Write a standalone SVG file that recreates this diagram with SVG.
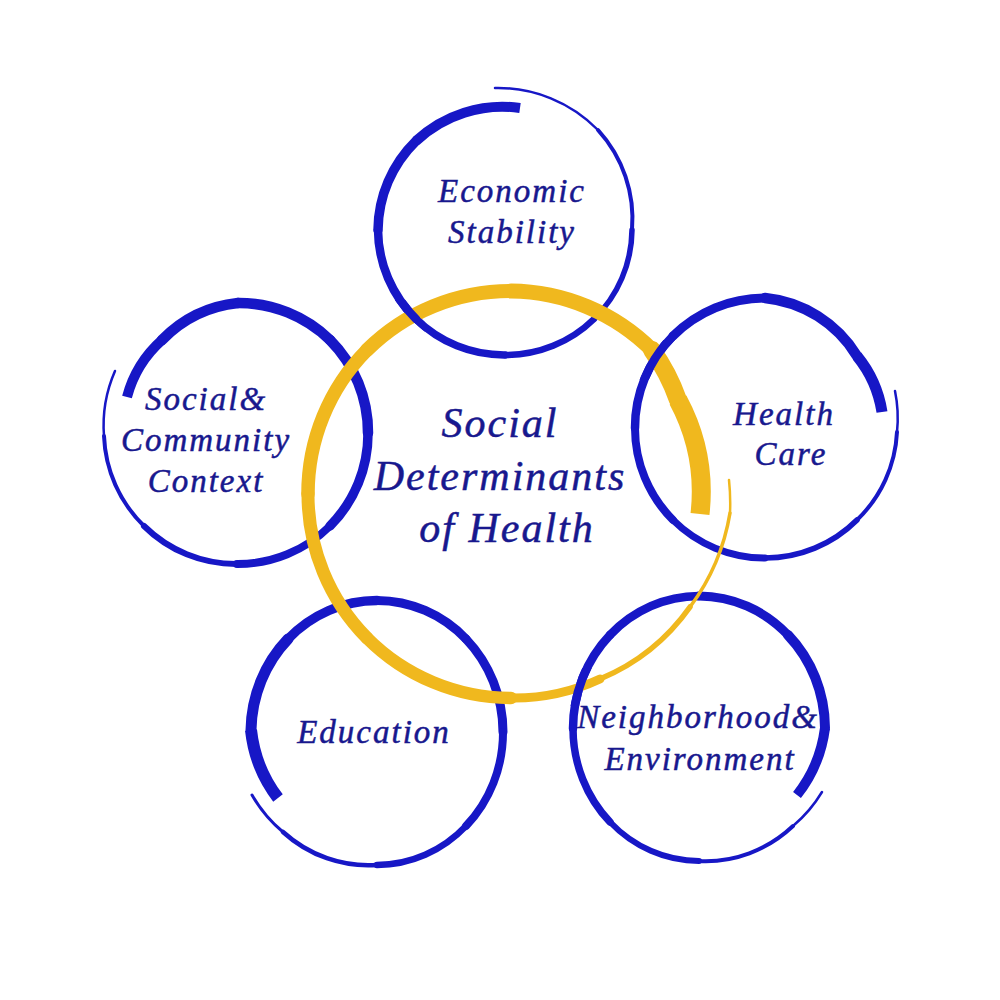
<svg xmlns="http://www.w3.org/2000/svg" width="1000" height="1000" viewBox="0 0 1000 1000">
<style>
.b{fill:none;stroke:#1717c6;stroke-linecap:round}
.y{fill:none;stroke:#f0b81e;stroke-linecap:round}
.s{stroke-linecap:butt}
text{font-family:"Liberation Serif","Times New Roman",serif;font-style:italic;fill:#18188e;stroke:#18188e;stroke-width:0.5px;text-anchor:middle;letter-spacing:2px}
.lbl{font-size:33px}
.big{font-size:42px}
</style>
<defs>
<clipPath id="c1"><rect x="385" y="300" width="40" height="40"/></clipPath>
<clipPath id="c2"><rect x="635" y="340" width="40" height="40"/></clipPath>
<clipPath id="c3"><rect x="562" y="668" width="36" height="38"/></clipPath>
</defs>
<rect x="0" y="0" width="1000" height="1000" fill="#ffffff"/>

<g id="node-economic">
 <g id="ring-economic">
  <path class="b s" stroke-width="10" d="M520,108 A126,126 0 0 0 416,141"/>
  <path class="b" stroke-width="9.5" d="M416,141 A126,126 0 0 0 378,230"/>
  <path class="b" stroke-width="8.5" d="M378,230 A126,126 0 0 0 416,319"/>
  <path class="b" stroke-width="7.5" d="M416,319 A126,126 0 0 0 505,355"/>
  <path class="b" stroke-width="6.5" d="M505,355 A126,126 0 0 0 594,319"/>
  <path class="b" stroke-width="5.5" d="M594,319 A126,126 0 0 0 632,230"/>
  <path class="b" stroke-width="4" d="M632,230 A132,132 0 0 0 598,130"/>
  <path class="b" stroke-width="2.5" d="M598,130 A140,140 0 0 0 495,88"/>
 </g>
 <text class="lbl" x="512" y="202">Economic</text>
 <text class="lbl" x="512" y="243">Stability</text>
</g>

<g id="node-social">
 <g id="ring-social">
  <path class="b s" stroke-width="10" d="M127,397 A116,116 0 0 1 162,340"/>
  <path class="b" stroke-width="10.5" d="M162,340 A124,124 0 0 1 238,303"/>
  <path class="b" stroke-width="10.5" d="M238,303 A131,131 0 0 1 330,340"/>
  <path class="b" stroke-width="10.5" d="M330,340 A131,131 0 0 1 368,433"/>
  <path class="b" stroke-width="9.5" d="M368,433 A131,131 0 0 1 330,526"/>
  <path class="b" stroke-width="8" d="M330,526 A131,131 0 0 1 237,564"/>
  <path class="b" stroke-width="6" d="M237,564 A131,131 0 0 1 144,526"/>
  <path class="b" stroke-width="4" d="M144,526 A133,133 0 0 1 104,436"/>
  <path class="b" stroke-width="2.5" d="M104,436 A136,136 0 0 1 115,371"/>
 </g>
 <text class="lbl" x="206" y="410">Social&amp;</text>
 <text class="lbl" x="206" y="451">Community</text>
 <text class="lbl" x="206" y="492">Context</text>
</g>

<g id="node-health">
 <g id="ring-health">
  <path class="b s" stroke-width="11" d="M882,412 A117,117 0 0 0 857,356"/>
  <path class="b" stroke-width="10.5" d="M857,356 A122,122 0 0 0 765,298"/>
  <path class="b" stroke-width="9" d="M765,298 A130,130 0 0 0 673,336"/>
  <path class="b" stroke-width="8.5" d="M673,336 A130,130 0 0 0 635,428"/>
  <path class="b" stroke-width="8" d="M635,428 A130,130 0 0 0 673,520"/>
  <path class="b" stroke-width="7" d="M673,520 A130,130 0 0 0 765,558"/>
  <path class="b" stroke-width="5.5" d="M765,558 A130,130 0 0 0 857,520"/>
  <path class="b" stroke-width="4" d="M857,520 A131,131 0 0 0 897,432"/>
  <path class="b" stroke-width="2.5" d="M897,432 A133,133 0 0 0 895,391"/>
 </g>
 <text class="lbl" x="784" y="425">Health</text>
 <text class="lbl" x="791" y="465">Care</text>
</g>

<g id="node-education">
 <g id="ring-education">
  <path class="b s" stroke-width="12" d="M278,798 A126,132 0 0 1 251,730"/>
  <path class="b" stroke-width="11" d="M251,730 A126,132 0 0 1 288,639"/>
  <path class="b" stroke-width="9.5" d="M288,639 A126,132 0 0 1 377,600.5"/>
  <path class="b" stroke-width="9" d="M377,600.5 A126,132 0 0 1 466,639"/>
  <path class="b" stroke-width="9" d="M466,639 A126,132 0 0 1 503,732"/>
  <path class="b" stroke-width="8" d="M503,732 A126,132 0 0 1 466,826"/>
  <path class="b" stroke-width="6.5" d="M466,826 A126,132 0 0 1 377,865"/>
  <path class="b" stroke-width="4.5" d="M377,865 A130,136 0 0 1 283,832"/>
  <path class="b" stroke-width="3" d="M283,832 A134,138 0 0 1 252,795"/>
 </g>
 <text class="lbl" x="374" y="743">Education</text>
</g>

<g id="node-neighborhood">
 <g id="ring-neighborhood">
  <path class="b s" stroke-width="10" d="M797,795 A126,132.5 0 0 0 825,728"/>
  <path class="b" stroke-width="10" d="M825,728 A126,132.5 0 0 0 788,635"/>
  <path class="b" stroke-width="9" d="M788,635 A126,132.5 0 0 0 699,596"/>
  <path class="b" stroke-width="8.5" d="M699,596 A126,132.5 0 0 0 610,635"/>
  <path class="b" stroke-width="8.5" d="M610,635 A126,132.5 0 0 0 573,728.5"/>
  <path class="b" stroke-width="7.5" d="M573,728.5 A126,132.5 0 0 0 610,822"/>
  <path class="b" stroke-width="6" d="M610,822 A126,132.5 0 0 0 699,861"/>
  <path class="b" stroke-width="4" d="M699,861 A130,136 0 0 0 793,826"/>
  <path class="b" stroke-width="2.5" d="M793,826 A134,138 0 0 0 822,792"/>
 </g>
 <text class="lbl" x="698" y="728">Neighborhood&amp;</text>
 <text class="lbl" x="700" y="770">Environment</text>
</g>

<g id="node-center">
 <g id="ring-center">
  <path class="y s" stroke-width="19" d="M700,514 A195,195 0 0 0 678,400"/>
  <path class="y" stroke-width="18" d="M678,400 A198,198 0 0 0 652,350"/>
  <path class="y" stroke-width="15" d="M652,350 A203,203 0 0 0 511,291"/>
  <path class="y" stroke-width="14" d="M511,291 A204,204 0 0 0 367,350"/>
  <path class="y" stroke-width="13.5" d="M367,350 A204,204 0 0 0 308,494"/>
  <path class="y" stroke-width="13" d="M308,494 A204,204 0 0 0 367,638"/>
  <path class="y" stroke-width="12.5" d="M367,638 A204,204 0 0 0 511,698"/>
  <path class="y" stroke-width="9" d="M511,698 A204,204 0 0 0 600,679"/>
  <path class="y" stroke-width="5.5" d="M600,679 A208,208 0 0 0 690,607"/>
  <path class="y" stroke-width="3.5" d="M690,607 A216,216 0 0 0 730,513"/>
  <path class="y" stroke-width="2.5" d="M730,513 A220,220 0 0 0 729,480"/>
 </g>
 <text class="big" x="500" y="437">Social</text>
 <text class="big" x="500" y="490">Determinants</text>
 <text class="big" x="507" y="542">of Health</text>
</g>

<g id="weave-overlaps">
 <use href="#ring-economic" clip-path="url(#c1)"/>
 <use href="#ring-health" clip-path="url(#c2)"/>
 <use href="#ring-neighborhood" clip-path="url(#c3)"/>
</g>
</svg>
